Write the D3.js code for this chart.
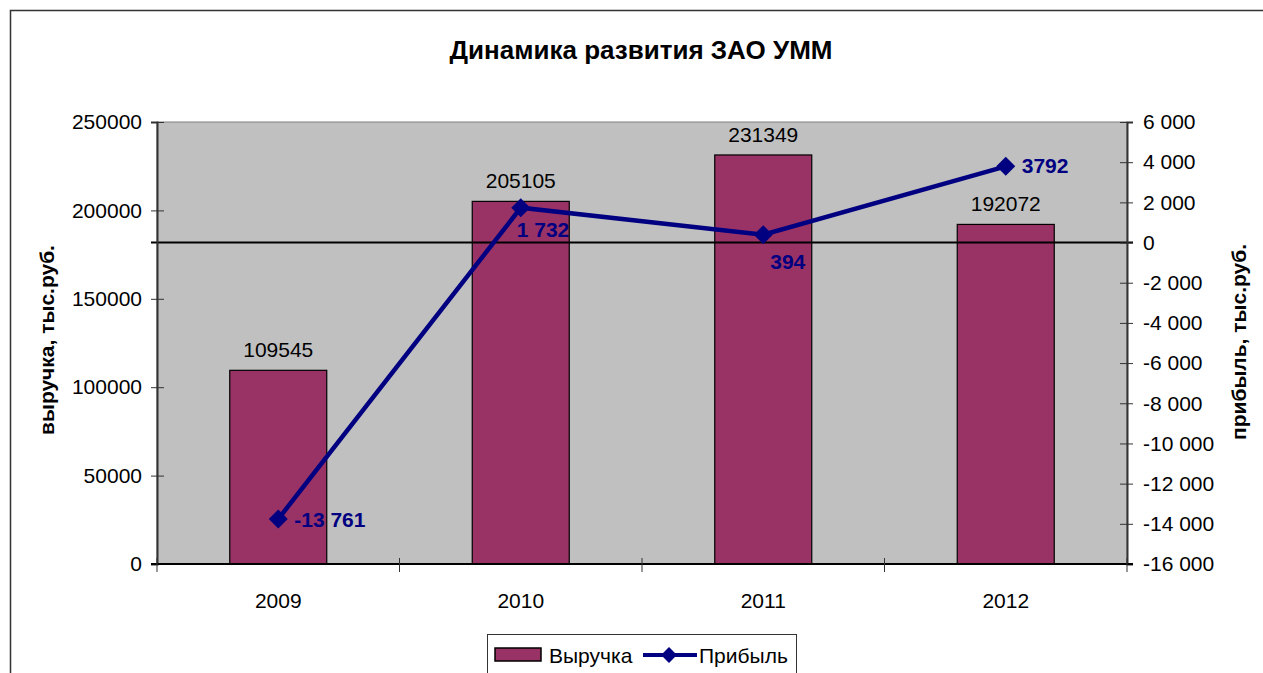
<!DOCTYPE html>
<html>
<head>
<meta charset="utf-8">
<script src="https://cdn.jsdelivr.net/npm/d3@7"></script>
<style>
  body { margin: 0; background: #fff; }
  svg { display: block; font-family: "Liberation Sans", Arial, sans-serif; }
</style>
</head>
<body>
<svg id="chart" width="1263" height="673"></svg>
<script>
// data
const years = ["2009", "2010", "2011", "2012"];
const revenue = [109545, 205105, 231349, 192072];
const profit = [-13761, 1732, 394, 3792];
const profitLabels = ["-13 761", "1 732", "394", "3792"];
const leftTicks = [0, 50000, 100000, 150000, 200000, 250000];
const rightTicks = [-16000, -14000, -12000, -10000, -8000, -6000, -4000, -2000, 0, 2000, 4000, 6000];

const svg = d3.select("#chart");

// plot box
const plotL = 157, plotR = 1127, plotT = 122, plotB = 564;

const x = d3.scaleBand().domain(years).range([plotL, plotR]).paddingInner(0.6).paddingOuter(0.3);
const yL = d3.scaleLinear().domain([0, 250000]).range([plotB, plotT]);
const yR = d3.scaleLinear().domain([-16000, 6000]).range([plotB, plotT]);
const cx = d => x(d) + x.bandwidth() / 2;

const fmt = d3.formatLocale({decimal: ",", thousands: " ", grouping: [3], currency: ["", ""], minus: "-"}).format(",");

// outer frame
svg.append("rect")
  .attr("x", 10.5).attr("y", 10.5)
  .attr("width", 1300).attr("height", 700)
  .attr("fill", "none").attr("stroke", "#333").attr("stroke-width", 1.5);

// title
svg.append("text")
  .attr("x", 641).attr("y", 59)
  .attr("text-anchor", "middle")
  .attr("font-size", 26).attr("font-weight", "bold")
  .text("Динамика развития ЗАО УММ");

// plot background
svg.append("rect")
  .attr("x", plotL).attr("y", plotT)
  .attr("width", plotR - plotL).attr("height", plotB - plotT)
  .attr("fill", "#c0c0c0").attr("stroke", "#808080").attr("stroke-width", 1);

// bars
svg.selectAll(".bar")
  .data(years)
  .enter().append("rect")
  .attr("class", "bar")
  .attr("x", d => x(d))
  .attr("y", (d, i) => yL(revenue[i]))
  .attr("width", x.bandwidth())
  .attr("height", (d, i) => plotB - yL(revenue[i]))
  .attr("fill", "#993366")
  .attr("stroke", "#000").attr("stroke-width", 1.2);

// bar labels
svg.selectAll(".barlbl")
  .data(years)
  .enter().append("text")
  .attr("x", d => cx(d))
  .attr("y", (d, i) => yL(revenue[i]) - 13)
  .attr("text-anchor", "middle")
  .attr("font-size", 21)
  .text((d, i) => revenue[i]);

// zero line of the right axis
svg.append("line")
  .attr("x1", plotL - 6).attr("x2", plotR + 6)
  .attr("y1", yR(0)).attr("y2", yR(0))
  .attr("stroke", "#000").attr("stroke-width", 2);

// left axis
const axL = svg.append("g")
  .attr("transform", `translate(${plotL},0)`)
  .call(d3.axisLeft(yL).tickValues(leftTicks).tickSize(6).tickPadding(9).tickFormat(d => d));
axL.select(".domain").attr("stroke", "#333").attr("stroke-width", 2);
axL.selectAll(".tick line").attr("x1", -6).attr("x2", 7).attr("stroke", "#333");
axL.selectAll("text").attr("font-size", 21).attr("font-family", null).attr("fill", "#000");

// right axis
const axR = svg.append("g")
  .attr("transform", `translate(${plotR},0)`)
  .call(d3.axisRight(yR).tickValues(rightTicks).tickSize(6).tickPadding(10).tickFormat(fmt));
axR.select(".domain").attr("stroke", "#333").attr("stroke-width", 2);
axR.selectAll(".tick line").attr("x1", -7).attr("x2", 6).attr("stroke", "#333");
axR.selectAll("text").attr("font-size", 21).attr("font-family", null).attr("fill", "#000");

// bottom axis
const axB = svg.append("g")
  .attr("transform", `translate(0,${plotB})`);
axB.append("line").attr("x1", plotL - 6).attr("x2", plotR + 6)
  .attr("stroke", "#000").attr("stroke-width", 2);
const bounds = years.map(d => x(d) - x.step() * x.paddingInner() / 2).concat([plotR]);
bounds[0] = plotL;
axB.selectAll(".btick").data(bounds).enter().append("line")
  .attr("x1", d => d).attr("x2", d => d)
  .attr("y1", -6).attr("y2", 8)
  .attr("stroke", "#333");
axB.selectAll(".blbl").data(years).enter().append("text")
  .attr("x", d => cx(d)).attr("y", 44)
  .attr("text-anchor", "middle").attr("font-size", 21)
  .text(d => d);

// axis titles
svg.append("text")
  .attr("transform", "translate(54,340) rotate(-90)")
  .attr("text-anchor", "middle")
  .attr("font-size", 21).attr("font-weight", "bold")
  .text("выручка, тыс.руб.");
svg.append("text")
  .attr("transform", "translate(1246,342) rotate(-90)")
  .attr("text-anchor", "middle")
  .attr("font-size", 21).attr("font-weight", "bold")
  .text("прибыль, тыс.руб.");

// profit line
const line = d3.line().x((d, i) => cx(years[i])).y(d => yR(d));
svg.append("path")
  .datum(profit)
  .attr("d", line)
  .attr("fill", "none")
  .attr("stroke", "#000080").attr("stroke-width", 4.5);

const diamond = d3.symbol().type(d3.symbolDiamond2).size(230);
svg.selectAll(".mk")
  .data(profit)
  .enter().append("path")
  .attr("transform", (d, i) => `translate(${cx(years[i])},${yR(d)})`)
  .attr("d", diamond)
  .attr("fill", "#000080");

// profit labels
const lblOff = [[16, 8], [-4, 29], [7, 34], [16, 7]];
svg.selectAll(".plbl")
  .data(profit)
  .enter().append("text")
  .attr("x", (d, i) => cx(years[i]) + lblOff[i][0])
  .attr("y", (d, i) => yR(d) + lblOff[i][1])
  .attr("font-size", 21).attr("font-weight", "bold")
  .attr("fill", "#000080")
  .text((d, i) => profitLabels[i]);

// legend
const lg = svg.append("g");
lg.append("rect")
  .attr("x", 487.5).attr("y", 634.5).attr("width", 309).attr("height", 60)
  .attr("fill", "#fff").attr("stroke", "#333").attr("stroke-width", 1);
lg.append("rect")
  .attr("x", 495).attr("y", 648).attr("width", 46).attr("height", 13)
  .attr("fill", "#993366").attr("stroke", "#000").attr("stroke-width", 1.5);
lg.append("text").attr("x", 549).attr("y", 663).attr("font-size", 21).text("Выручка");
lg.append("line")
  .attr("x1", 643).attr("x2", 697).attr("y1", 655).attr("y2", 655)
  .attr("stroke", "#000080").attr("stroke-width", 4);
lg.append("path")
  .attr("transform", "translate(669,655)")
  .attr("d", d3.symbol().type(d3.symbolDiamond2).size(160))
  .attr("fill", "#000080");
lg.append("text").attr("x", 699).attr("y", 663).attr("font-size", 21).text("Прибыль");
</script>
</body>
</html>
